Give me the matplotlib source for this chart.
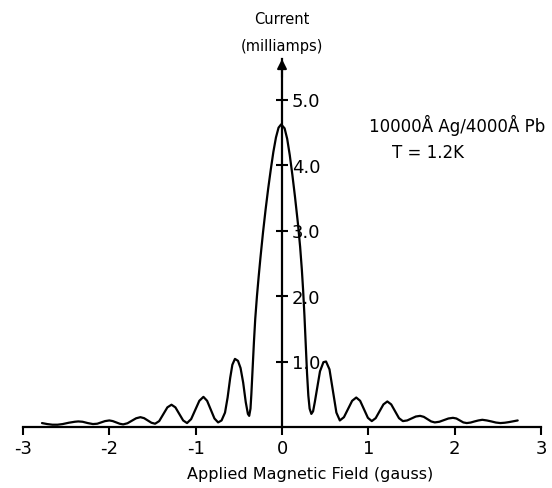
import matplotlib
matplotlib.use("Agg")
import matplotlib.pyplot as plt

plt.rcParams['font.family'] = ['DejaVu Sans']

# Applied magnetic field (gauss)
field = [-2.78, -2.72, -2.66, -2.60, -2.54, -2.47, -2.40, -2.36, -2.31, -2.25,
         -2.19, -2.14, -2.095, -2.05, -2.00, -1.96, -1.92, -1.88, -1.84, -1.79,
         -1.74, -1.69, -1.64, -1.5975, -1.555, -1.5125, -1.47, -1.4225, -1.375, -1.3275,
         -1.28, -1.235, -1.19, -1.145, -1.10, -1.0525, -1.005, -0.9575, -0.91, -0.8675,
         -0.825, -0.7825, -0.74, -0.70, -0.66, -0.63, -0.60, -0.575, -0.545, -0.51,
         -0.48, -0.45, -0.42, -0.395, -0.38, -0.365, -0.355, -0.34, -0.325, -0.31,
         -0.29, -0.27, -0.25, -0.22, -0.19, -0.16, -0.13, -0.10, -0.07, -0.04,
         -0.01, 0.03, 0.06, 0.09, 0.12, 0.15, 0.185, 0.21, 0.23, 0.245,
         0.26, 0.275, 0.29, 0.305, 0.32, 0.34, 0.36, 0.38, 0.41, 0.44,
         0.48, 0.51, 0.55, 0.59, 0.63, 0.67, 0.7175, 0.765, 0.8125, 0.86,
         0.905, 0.95, 0.995, 1.04, 1.085, 1.13, 1.175, 1.22, 1.265, 1.31,
         1.355, 1.40, 1.45, 1.50, 1.55, 1.60, 1.6425, 1.685, 1.7275, 1.77,
         1.8225, 1.875, 1.9275, 1.98, 2.02, 2.06, 2.10, 2.14, 2.185, 2.23,
         2.275, 2.32, 2.3725, 2.425, 2.4775, 2.53, 2.58, 2.63, 2.68, 2.73]
# Current (milliamps)
current = [0.06, 0.045, 0.035, 0.035, 0.045, 0.065, 0.08, 0.085, 0.08, 0.06,
           0.045, 0.05, 0.07, 0.09, 0.10, 0.09, 0.07, 0.05, 0.04, 0.057,
           0.095, 0.133, 0.15, 0.135, 0.10, 0.065, 0.05, 0.09, 0.195, 0.30,
           0.34, 0.30, 0.20, 0.10, 0.06, 0.12, 0.26, 0.40, 0.46, 0.40,
           0.265, 0.13, 0.07, 0.10, 0.22, 0.45, 0.75, 0.95, 1.04, 1.01,
           0.90, 0.68, 0.38, 0.20, 0.17, 0.28, 0.50, 0.90, 1.30, 1.65,
           2.00, 2.30, 2.58, 2.97, 3.32, 3.64, 3.93, 4.20, 4.42, 4.57,
           4.62, 4.56, 4.40, 4.15, 3.85, 3.52, 3.10, 2.75, 2.40, 2.08,
           1.70, 1.25, 0.82, 0.48, 0.28, 0.20, 0.24, 0.38, 0.62, 0.85,
           0.99, 1.00, 0.88, 0.55, 0.22, 0.10, 0.15, 0.275, 0.40, 0.45,
           0.40, 0.27, 0.14, 0.09, 0.135, 0.24, 0.345, 0.39, 0.345, 0.24,
           0.135, 0.09, 0.10, 0.13, 0.16, 0.17, 0.155, 0.12, 0.085, 0.07,
           0.08, 0.105, 0.13, 0.14, 0.13, 0.10, 0.07, 0.06, 0.068, 0.085,
           0.10, 0.11, 0.10, 0.085, 0.068, 0.06, 0.065, 0.075, 0.088, 0.10]

x_ticks = [-3, -2, -1, 0, 1, 2, 3]
x_tick_labels = ['-3', '-2', '-1', '0', '1', '2', '3']
y_ticks = [1, 2, 3, 4, 5]
y_tick_labels = ['1.0', '2.0', '3.0', '4.0', '5.0']

W, H = 552, 489
fig = plt.figure(figsize=(W / 100, H / 100), dpi=100)
ax = fig.add_axes([23 / W, 61 / H, 518 / W, 368 / H])
ax.set_xlim(-3, 3)
ax.set_ylim(0, 368 / 65.5)

ax.plot(field, current, color='black', lw=1.6, solid_joinstyle='round',
        solid_capstyle='round')

for s in ['top', 'right']:
    ax.spines[s].set_visible(False)
ax.spines['bottom'].set_linewidth(1.6)
ax.spines['left'].set_position(('data', 0))
ax.spines['left'].set_linewidth(1.6)

ax.set_xticks(x_ticks)
ax.set_xticklabels(x_tick_labels, fontsize=13)
ax.tick_params(axis='x', direction='out', length=6, width=1.5, pad=3)
ax.set_yticks(y_ticks)
ax.set_yticklabels(y_tick_labels, fontsize=13)
ax.tick_params(axis='y', direction='inout', length=8, width=1.5, pad=-11)
for lbl in ax.get_yticklabels():
    lbl.set_horizontalalignment('left')

# arrow head at the top of the current axis
ax.annotate('', xy=(0, 1.0), xycoords=('data', 'axes fraction'),
            xytext=(0, 0.95), textcoords=('data', 'axes fraction'),
            arrowprops=dict(arrowstyle='-|>', color='black', lw=1.5,
                            mutation_scale=14, shrinkA=0, shrinkB=0))

fig.text(282 / W, 1 - 20 / H, 'Current', ha='center', va='center', fontsize=10.5)
fig.text(282 / W, 1 - 47 / H, '(milliamps)', ha='center', va='center', fontsize=10.5)
fig.text(457 / W, 1 - 125 / H, '10000Å Ag/4000Å Pb', ha='center', va='center', fontsize=12)
fig.text(392 / W, 1 - 153 / H, 'T = 1.2K', ha='left', va='center', fontsize=12)
fig.text(310 / W, 1 - 475 / H, 'Applied Magnetic Field (gauss)', ha='center',
         va='center', fontsize=11.5)

fig.savefig('out.png', dpi=100)
